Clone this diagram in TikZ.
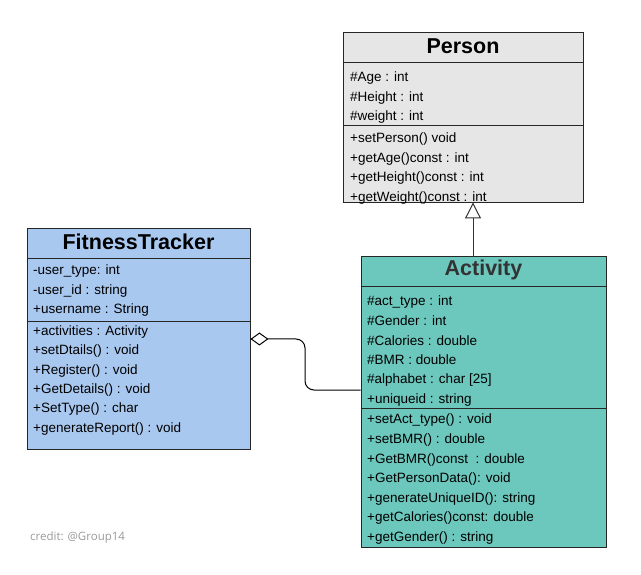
\documentclass[tikz,border=0pt]{standalone}
\usepackage{fontspec}
\setmainfont{Liberation Sans}
\newfontfamily\creditfont{Open Sans}
\usetikzlibrary{arrows.meta,shapes}
\definecolor{personfill}{HTML}{E6E6E6}
\definecolor{trackerfill}{HTML}{A9C8F0}
\definecolor{activityfill}{HTML}{6CC7BD}
\tikzstyle{class box}=[rectangle,draw=black!85,line width=0.9pt,inner sep=0pt]
\tikzstyle{class title}=[font=\fontsize{21.5}{24}\selectfont\bfseries]
\tikzstyle{member}=[anchor=west,inner sep=0pt,yshift=-1.5pt,text height=10pt,text depth=3pt,font=\fontsize{13.5}{16}\selectfont]
\tikzstyle{divider}=[draw=black!85,line width=0.9pt]
\tikzstyle{inherit}=[draw=black!80,line width=1pt,-{Triangle[open,length=16pt,width=16pt]}]
\tikzstyle{aggregate}=[draw=black,line width=1pt,rounded corners=9pt,{Diamond[open,length=18pt,width=13pt]}-]

\begin{document}
\begin{tikzpicture}[x=1pt,y=-1pt]
    \useasboundingbox (0,0) rectangle (641,575);
    % First we draw the three class boxes
    \node[class box,fill=personfill,minimum width=240pt,minimum height=170pt] (Person) at (463,117) {};
    \node[class box,fill=trackerfill,minimum width=223pt,minimum height=221pt] (FitnessTracker) at (138.5,338.5) {};
    \node[class box,fill=activityfill,minimum width=245pt,minimum height=291pt] (Activity) at (483.5,401.5) {};

    % Titles
    \node[class title] (PersonTitle) at (463,46) {Person};
    \node[class title] (TrackerTitle) at (138.5,242) {FitnessTracker};
    \node[class title,text=black!80] (ActivityTitle) at (483.5,270) {Activity};

    % Dividers between title, attributes and methods
    \foreach \cls/\y in {Person/62,Person/125,FitnessTracker/258,FitnessTracker/321,Activity/286,Activity/408}
        \path[divider] (\cls.west |- 0,\y) -- (\cls.east |- 0,\y);

    % Person members
    \foreach \txt [count=\i] in {\#Age : int,\#Height : int,\#weight : int}
        \node[member] (pa\i) at (350,{77+19.5*(\i-1)}) {\txt};
    \foreach \txt [count=\i] in {+setPerson() void,+getAge()const : int,+getHeight()const : int,+getWeight()const : int}
        \node[member] (pm\i) at (350,{138+19.5*(\i-1)}) {\txt};

    % FitnessTracker members
    \foreach \txt [count=\i] in {-user\_type: int,-user\_id : string,+username : String}
        \node[member] (fa\i) at (33,{270+19.5*(\i-1)}) {\txt};
    \foreach \txt [count=\i] in {+activities : Activity,+setDtails() : void,+Register() : void,+GetDetails() : void,+SetType() : char,+generateReport() : void}
        \node[member] (fm\i) at (33,{330+19.5*(\i-1)}) {\txt};

    % Activity members
    \foreach \txt [count=\i] in {\#act\_type : int,\#Gender : int,\#Calories : double,\#BMR : double,\#alphabet : char [25],+uniqueid : string}
        \node[member] (aa\i) at (367,{301+19.5*(\i-1)}) {\txt};
    \foreach \txt [count=\i] in {+setAct\_type() : void,+setBMR() : double,+GetBMR()const\ \ : double,+GetPersonData(): void,+generateUniqueID(): string,+getCalories()const: double,+getGender() : string}
        \node[member] (am\i) at (367,{419+19.5*(\i-1)}) {\txt};

    % Connect classes
    \coordinate (inh) at (473,0);
    \path[inherit] (inh |- Activity.north) -- (inh |- Person.south);
    \path[aggregate] (FitnessTracker.east |- 0,339) -| (305,365) |- (Activity.west |- 0,390);

    \node[anchor=west,inner sep=0pt,text=black!40,font=\creditfont\fontsize{11.5}{13}\selectfont] (credit) at (30,538) {credit: @Group14};
\end{tikzpicture}
\end{document}
